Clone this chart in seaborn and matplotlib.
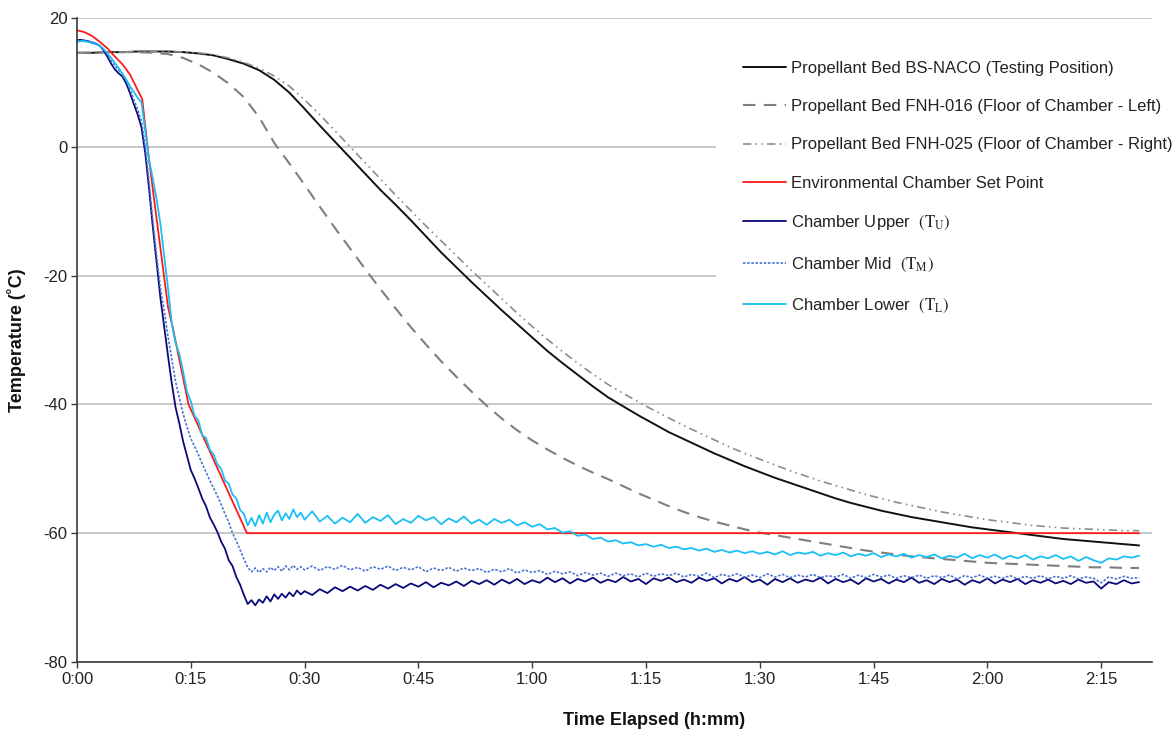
import numpy as np
import matplotlib
matplotlib.use("Agg")
import matplotlib.pyplot as plt
import seaborn as sns

# ---------------- data ----------------
# propellant bed sensors, sampled every 2 minutes (0..140 min)
t_bed = np.arange(0, 141, 2)
bed_naco = [14.6, 14.6, 14.7, 14.7, 14.8, 14.8, 14.8, 14.7, 14.5, 14.2,
            13.6, 12.9, 11.9, 10.4, 8.4, 5.9, 3.3, 0.8, -1.7, -4.2,
            -6.7, -9.0, -11.4, -13.9, -16.4, -18.7, -21.0, -23.2, -25.4, -27.5,
            -29.6, -31.7, -33.6, -35.4, -37.2, -38.9, -40.3, -41.7, -43.0, -44.3,
            -45.4, -46.5, -47.6, -48.6, -49.6, -50.5, -51.4, -52.2, -53.0, -53.8,
            -54.6, -55.3, -55.9, -56.5, -57.0, -57.5, -57.9, -58.3, -58.7, -59.1,
            -59.4, -59.7, -60.0, -60.3, -60.6, -60.9, -61.1, -61.3, -61.5, -61.7,
            -61.9]
bed_fnh016 = [14.6, 14.6, 14.7, 14.7, 14.7, 14.6, 14.4, 13.8, 12.8, 11.5,
              9.8, 7.7, 4.6, 0.6, -2.6, -5.9, -9.3, -12.6, -15.8, -19.0,
              -22.1, -25.1, -28.0, -30.7, -33.3, -35.7, -38.0, -40.2, -42.2, -44.0,
              -45.6, -47.0, -48.3, -49.5, -50.6, -51.6, -52.7, -53.8, -54.8, -55.8,
              -56.7, -57.5, -58.2, -58.8, -59.4, -59.9, -60.3, -60.7, -61.1, -61.5,
              -61.9, -62.3, -62.7, -63.0, -63.3, -63.6, -63.8, -64.0, -64.2, -64.4,
              -64.6, -64.7, -64.8, -64.9, -65.0, -65.1, -65.2, -65.3, -65.3, -65.4,
              -65.4]
bed_fnh025 = [14.6, 14.6, 14.7, 14.7, 14.8, 14.8, 14.8, 14.7, 14.6, 14.3,
              13.8, 13.1, 12.2, 11.0, 9.4, 7.3, 5.0, 2.5, 0.0, -2.5,
              -5.0, -7.5, -9.9, -12.3, -14.6, -16.9, -19.2, -21.4, -23.6, -25.8,
              -27.9, -29.9, -31.8, -33.6, -35.3, -36.9, -38.3, -39.6, -40.9, -42.1,
              -43.3, -44.4, -45.5, -46.6, -47.6, -48.5, -49.4, -50.3, -51.1, -51.9,
              -52.6, -53.3, -54.0, -54.6, -55.2, -55.7, -56.2, -56.7, -57.1, -57.5,
              -57.9, -58.2, -58.5, -58.8, -59.0, -59.2, -59.3, -59.4, -59.5, -59.6,
              -59.6]

# environmental chamber set point
t_set = [0, 1, 2, 3, 4, 5, 6, 7, 8, 8.6, 9.4, 10.3, 11.2, 12.0, 12.7, 14.7, 22.4, 140]
setpoint = [18.1, 17.8, 17.2, 16.3, 15.3, 14.0, 12.8, 11.2, 8.8, 7.4,
            -1.1, -9.4, -17.6, -24.9, -28.5, -40.0, -60.0, -60.0]

# chamber thermocouples: every 0.5 min up to 29.5 min, then every minute
t_ch = np.concatenate([np.arange(0, 30, 0.5), np.arange(30, 141, 1)])
ch_upper = [16.6, 16.6, 16.5, 16.4, 16.2, 16.0, 15.7, 15.0, 14.0, 12.9,
            12.0, 11.4, 10.9, 9.8, 8.3, 6.6, 5.0, 3.0, -1.0, -6.5,
            -12.5, -18.0, -23.5, -28.0, -32.5, -36.8, -40.5, -43.0, -45.8, -48.0,
            -50.2, -51.5, -53.0, -54.6, -55.8, -57.5, -58.6, -59.8, -61.3, -62.4,
            -64.2, -65.1, -66.8, -68.0, -69.6, -71.0, -70.4, -71.2, -70.3, -70.8,
            -69.8, -70.6, -69.5, -70.2, -69.4, -70.0, -69.2, -69.8, -68.9, -69.5,
            -69.0, -69.6, -68.7, -69.3, -68.4, -69.0, -68.3, -68.9, -68.2, -68.8,
            -68.0, -68.6, -67.9, -68.5, -67.8, -68.3, -67.6, -68.4, -67.7, -68.1,
            -67.5, -68.2, -67.4, -67.9, -67.3, -68.0, -67.2, -67.8, -67.1, -67.9,
            -67.3, -67.7, -66.9, -67.6, -67.0, -67.8, -67.1, -67.5, -66.9, -67.7,
            -67.2, -67.6, -66.8, -67.5, -67.1, -67.9, -67.0, -67.4, -66.9, -67.6,
            -67.2, -67.7, -66.9, -67.4, -67.0, -67.8, -67.1, -67.5, -66.8, -67.6,
            -67.2, -68.0, -67.1, -67.6, -67.0, -67.7, -67.2, -67.5, -66.9, -67.8,
            -67.1, -67.6, -67.2, -67.9, -67.0, -67.5, -67.1, -67.8, -67.2, -67.6,
            -66.9, -67.7, -67.3, -67.9, -67.1, -67.6, -67.2, -68.0, -67.3, -67.7,
            -67.0, -67.8, -67.2, -67.6, -67.1, -67.9, -67.3, -67.7, -67.2, -67.8,
            -67.4, -67.9, -67.2, -67.7, -67.5, -68.6, -67.6, -67.9, -67.3, -67.8,
            -67.6]
ch_mid = [16.5, 16.5, 16.4, 16.3, 16.2, 16.0, 15.7, 15.2, 14.4, 13.4,
          12.6, 11.9, 11.3, 10.3, 8.9, 7.3, 5.8, 4.0, 0.0, -5.5,
          -11.5, -17.0, -22.0, -25.5, -29.5, -33.0, -36.5, -39.0, -41.5, -43.5,
          -45.3, -46.5, -47.8, -49.2, -50.5, -51.8, -53.0, -54.2, -55.5, -57.0,
          -58.3, -60.0, -61.2, -62.6, -64.0, -65.3, -66.0, -65.4, -66.1, -65.5,
          -66.0, -65.3, -65.8, -65.2, -65.9, -65.1, -65.7, -65.0, -65.6, -65.2,
          -65.7, -65.1, -65.8, -65.2, -65.6, -65.0, -65.7, -65.3, -65.9, -65.2,
          -65.6, -65.1, -65.8, -65.3, -65.7, -65.2, -66.0, -65.4, -65.8, -65.3,
          -65.9, -65.4, -65.8, -65.5, -66.1, -65.6, -66.0, -65.5, -66.2, -65.7,
          -66.1, -65.8, -66.4, -65.9, -66.3, -66.0, -66.6, -66.1, -66.5, -66.2,
          -66.7, -66.2, -66.6, -66.3, -66.8, -66.2, -66.7, -66.3, -66.6, -66.2,
          -66.8, -66.4, -66.7, -66.2, -66.9, -66.4, -66.7, -66.3, -66.8, -66.5,
          -66.9, -66.3, -66.8, -66.4, -66.9, -66.5, -66.8, -66.4, -66.9, -66.6,
          -66.8, -66.4, -67.0, -66.5, -66.9, -66.4, -66.8, -66.5, -67.0, -66.6,
          -66.9, -66.5, -67.0, -66.6, -66.9, -66.5, -67.1, -66.6, -66.9, -66.5,
          -67.0, -66.7, -67.0, -66.6, -67.1, -66.7, -67.0, -66.6, -67.1, -66.7,
          -67.0, -66.6, -67.1, -66.8, -67.0, -67.7, -66.8, -67.1, -66.7, -67.0,
          -66.9]
ch_lower = [16.3, 16.4, 16.4, 16.3, 16.1, 15.9, 15.7, 15.2, 14.5, 13.8,
            13.0, 12.2, 11.3, 10.4, 9.4, 8.5, 7.6, 6.9, 2.5, -2.0,
            -5.0, -8.2, -12.0, -17.0, -22.0, -27.5, -30.5, -32.2, -35.0, -38.0,
            -39.5, -41.8, -42.5, -44.8, -45.2, -47.0, -47.8, -49.3, -50.0, -51.8,
            -52.3, -54.0, -54.6, -56.4, -57.0, -58.8, -57.6, -58.9, -57.2, -58.5,
            -56.8, -58.3, -57.1, -56.5, -58.0, -56.9, -57.8, -56.3, -57.5, -56.8,
            -57.9, -56.6, -58.2, -57.3, -58.5, -57.6, -58.3, -57.0, -58.4, -57.5,
            -58.1, -57.2, -58.6, -57.8, -58.4, -57.3, -58.0, -57.5, -58.6, -57.7,
            -58.3, -57.4, -58.5, -57.9, -58.7, -57.8, -58.4, -57.9, -58.8, -58.3,
            -59.0, -58.6, -59.4, -59.2, -59.9, -59.7, -60.4, -60.2, -60.9, -60.7,
            -61.3, -61.1, -61.6, -61.4, -61.9, -61.7, -62.1, -61.8, -62.3, -62.1,
            -62.5, -62.3, -62.7, -62.4, -62.9, -62.6, -63.0, -62.7, -63.1, -62.8,
            -63.2, -62.9, -63.3, -62.8, -63.4, -63.0, -63.2, -62.9, -63.5, -63.1,
            -63.4, -63.0, -63.6, -63.2, -63.5, -63.1, -63.7, -63.3, -63.6, -63.2,
            -63.8, -63.4, -63.7, -63.3, -63.9, -63.5, -63.8, -63.2, -63.9, -63.4,
            -63.8, -63.3, -64.0, -63.5, -63.9, -63.4, -64.1, -63.6, -63.9, -63.4,
            -64.0, -63.6, -64.3, -63.7, -64.2, -64.6, -63.9, -64.1, -63.6, -63.8,
            -63.5]

x_ticks = [0, 15, 30, 45, 60, 75, 90, 105, 120, 135]
x_tick_labels = ["0:00", "0:15", "0:30", "0:45", "1:00", "1:15", "1:30", "1:45", "2:00", "2:15"]
y_ticks = [-80, -60, -40, -20, 0, 20]

labels = ["Propellant Bed BS-NACO (Testing Position)",
          "Propellant Bed FNH-016 (Floor of Chamber - Left)",
          "Propellant Bed FNH-025 (Floor of Chamber - Right)",
          "Environmental Chamber Set Point",
          r"Chamber Upper  $(\mathrm{T_U})$",
          r"Chamber Mid  $(\mathrm{T_M})$",
          r"Chamber Lower  $(\mathrm{T_L})$"]

# ---------------- styling ----------------
sns.set_theme(style="white")
plt.rcParams["font.family"] = ["Liberation Sans", "DejaVu Sans"]
plt.rcParams["mathtext.fontset"] = "stix"
plt.rcParams["axes.unicode_minus"] = False

fig = plt.figure(figsize=(11.76, 7.36), dpi=100)
ax = fig.add_axes([77 / 1176, 1 - 662 / 736, (1152 - 77) / 1176, (662 - 18) / 736])

series = [
    (t_bed, bed_naco, "#111111", 1.4, "-"),
    (t_bed, bed_fnh016, "#7F7F7F", 1.5, (0, (6, 4))),
    (t_bed, bed_fnh025, "#8C8C8C", 1.2, (0, (5, 2.5, 1, 2.5, 1, 2.5))),
    (t_set, setpoint, "#FF1A1A", 1.3, "-"),
    (t_ch, ch_upper, "#0A0A78", 1.3, "-"),
    (t_ch, ch_mid, "#4A74D0", 1.2, (0, (1.5, 1))),
    (t_ch, ch_lower, "#19BFF5", 1.3, "-"),
]

handles = []
for (x, y, c, lw, ls), lab in zip(series, labels):
    sns.lineplot(x=x, y=y, ax=ax, color=c, linewidth=lw, estimator=None,
                 sort=False, label=lab)
    ln = ax.lines[-1]
    ln.set_linestyle(ls)
    handles.append(ln)

ax.set_xlim(0, 141.7)
ax.set_ylim(-80, 20)
ax.set_xticks(x_ticks)
ax.set_xticklabels(x_tick_labels)
ax.set_yticks(y_ticks)

ax.yaxis.grid(True, color="#C4C4C4", linewidth=1.3)
ax.xaxis.grid(False)
ax.set_axisbelow(True)

for s in ["top", "right"]:
    ax.spines[s].set_visible(False)
for s in ["left", "bottom"]:
    ax.spines[s].set_color("#3A3A3A")
    ax.spines[s].set_linewidth(1.2)

ax.tick_params(axis="both", which="major", labelsize=12, colors="#3A3A3A",
               labelcolor="#222222", direction="out", length=4, width=1, pad=3,
               bottom=True, left=True)

ax.set_xlabel("Time Elapsed (h:mm)", fontsize=13, fontweight="bold", color="#111111")
ax.set_ylabel("Temperature (˚C)", fontsize=13, fontweight="bold", color="#111111")
ax.xaxis.set_label_coords((654 - 77) / 1075, -0.078)
ax.yaxis.set_label_coords(-0.047, 0.5)

leg = ax.legend(handles, labels, loc="upper left",
                bbox_to_anchor=(716 / 1176, 1 - 34 / 736),
                bbox_transform=fig.transFigure, borderaxespad=0,
                borderpad=1.6, fontsize=12, handlelength=2.6,
                handletextpad=0.3, labelspacing=1.4,
                frameon=True, fancybox=False, framealpha=1)
leg.get_frame().set_facecolor("white")
leg.get_frame().set_edgecolor("none")
for txt in leg.get_texts():
    txt.set_color("#222222")

fig.savefig("out.png", dpi=100)
